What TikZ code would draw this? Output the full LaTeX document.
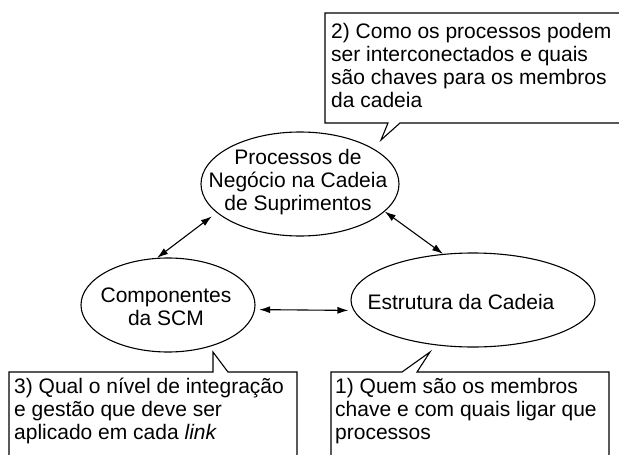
\documentclass[tikz,border=0pt]{standalone}
\usepackage{fontspec}
\setmainfont{Liberation Sans}
\usetikzlibrary{arrows.meta,shapes.geometric}
\begin{document}
\begin{tikzpicture}[x=1pt,y=-1pt,
  ell/.style={draw, ellipse, line width=1.1pt, inner sep=0pt},
  txt/.style={font=\fontsize{21}{23}\selectfont, inner sep=0pt, align=center},
  ctxt/.style={font=\fontsize{21}{23}\selectfont, inner sep=0pt, align=left, anchor=north west},
  callout/.style={draw, line width=1.1pt, line join=miter},
  dbl/.style={line width=1.1pt, {Latex[length=11pt,width=7pt]}-{Latex[length=11pt,width=7pt]}}]
\path[use as bounding box] (0,0) rectangle (619,455);
\clip (0,0) rectangle (619,455);
% ellipses
\node[ell, minimum width=198pt, minimum height=104pt] (t) at (300,184) {};
\node[ell, minimum width=174pt, minimum height=94pt] (l) at (168,305) {};
\node[ell, minimum width=244pt, minimum height=94pt] (r) at (473,300) {};
\node[txt] (tt) at (298,182) {Processos de\\Negócio na Cadeia\\de Suprimentos};
\node[txt] (lt) at (166,307) {Componentes\\da SCM};
\node[txt] (rt) at (461,302) {Estrutura da Cadeia};
% arrows
\draw[dbl, shorten >=6pt] (l.103) -- (t.199);
\draw[dbl] (t.-18) -- (r.123);
\draw[dbl, shorten <=4pt, shorten >=5pt] (l.-3) -- (r.185);
% callouts
\draw[callout] (325,13) -- (624,13) -- (624,123) -- (400,123) -- (381,140) -- (388,123) -- (325,123) -- cycle;
\node[ctxt] (c2) at (331,22.4) {\strut 2) Como os processos podem\\ser interconectados e quais\\são chaves para os membros\\da cadeia};
\draw[callout] (9,372) -- (213,372) -- (213,352) -- (228,372) -- (297,372) -- (297,462) -- (9,462) -- cycle;
\node[ctxt] (c3) at (14,377.4) {\strut 3) Qual o nível de integração\\e gestão que deve ser\\aplicado em cada \textit{link}};
\draw[callout] (331,372) -- (402,372) -- (430,352) -- (417,372) -- (609,372) -- (609,462) -- (331,462) -- cycle;
\node[ctxt] (c1) at (335,377.4) {\strut 1) Quem são os membros\\chave e com quais ligar que\\processos};
\end{tikzpicture}
\end{document}
